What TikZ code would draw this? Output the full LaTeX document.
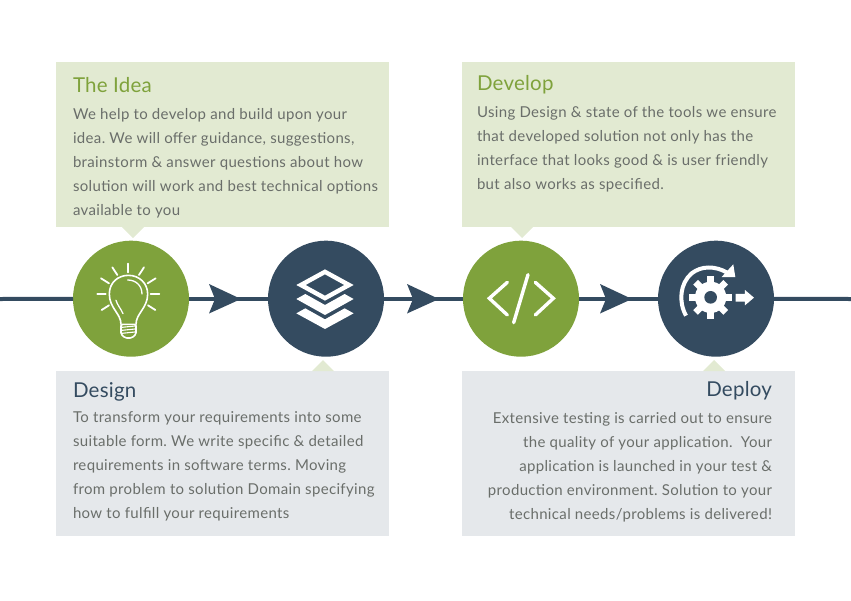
\documentclass[tikz,border=0pt]{standalone}
\usepackage{fontspec}
\setmainfont[LetterSpace=2.3]{Lato}
\newfontfamily\headfont[LetterSpace=1.2]{Lato}
\frenchspacing
\usetikzlibrary{calc}
\definecolor{boxgreen}{HTML}{E2EAD2}
\definecolor{boxgray}{HTML}{E5E8EB}
\definecolor{leaf}{HTML}{7FA23C}
\definecolor{navy}{HTML}{344B60}
\definecolor{bodytxt}{HTML}{6A6E6A}
\tikzset{
  panelgreen/.style={fill=boxgreen,draw=none},
  panelgray/.style={fill=boxgray,draw=none},
  disc/.style={circle,minimum size=116pt,inner sep=0pt,outer sep=0pt,draw=none},
  bodytext/.style={inner sep=0pt,outer sep=0pt,text=bodytxt,font=\fontsize{15}{24}\selectfont,align=left},
  headtext/.style={inner sep=0pt,outer sep=0pt,font=\headfont\fontsize{20.5}{24}\selectfont},
  rail/.style={draw=navy,line width=4pt},
  ink/.style={draw=white,line width=1.6pt,line cap=round,line join=round},
  icon/.style={x=0.3333pt,y=-0.3333pt},
}
\begin{document}
\begin{tikzpicture}[x=1pt,y=-1pt]
\useasboundingbox (0,0) rectangle (851,600);
% panels
\fill[panelgreen] (56,62) rectangle (389,227);
\fill[panelgreen] (122,227) -- (133,238) -- (144,227) -- cycle;
\fill[panelgreen] (462,62) rectangle (795,227);
\fill[panelgreen] (511,227) -- (522,238) -- (533,227) -- cycle;
\fill[panelgray] (56,371) rectangle (389,536);
\fill[panelgreen] (312,371) -- (323,360) -- (334,371) -- cycle;
\fill[panelgray] (462,371) rectangle (795,536);
\fill[panelgreen] (703,371) -- (714,360) -- (725,371) -- cycle;
% rail
\coordinate (railL) at (0,299);
\coordinate (railR) at (851,299);
\node[disc,fill=leaf] (idea) at (131,298.7) {};
\node[disc,fill=navy] (design) at (326,298.7) {};
\node[disc,fill=leaf] (develop) at (521,298.7) {};
\node[disc,fill=navy] (deploy) at (716,298.7) {};
\draw[rail] (railL) -- (idea);
\draw[rail] (idea) -- (design);
\draw[rail] (design) -- (develop);
\draw[rail] (develop) -- (deploy);
\draw[rail] (deploy) -- (railR);
\foreach \t in {209,407,600}{
  \fill[navy] (\t,284) -- (\t+32,299) -- (\t,313.5) -- (\t+6,299) -- cycle;
}
% bulb
\begin{scope}[shift={(60,225)},icon]
\draw[ink] (183,298) .. controls (183,265) and (148,250) .. (148,207)
  .. controls (148,172) and (175,151) .. (205,151)
  .. controls (238,151) and (263,175) .. (263,207)
  .. controls (263,250) and (228,265) .. (228,298);
\draw[ink,rounded corners=1.5pt] (183,298) -- (228,298) -- (228,328) -- (215,339) -- (196,339) -- (183,328) -- cycle;
\draw[ink,line width=1.1pt] (186,307) -- (225,303) (186,316) -- (225,312) (186,325) -- (225,321);
\draw[ink,line width=1.3pt] (203,165) .. controls (228,165) and (246,182) .. (246,207);
\draw[ink,line width=1.3pt] (168,226) .. controls (172,240) and (182,250) .. (189,266);
\foreach \a/\b/\c/\d in {205/116/205/142,157/127/172/150,252/127/237/150,123/160/147/175,287/160/263/175,112/208/137/208,298/208/272/208,125/255/147/241,286/255/264/241}
  \draw[ink,line width=1.8pt] (\a,\b) -- (\c,\d);
\end{scope}
% layers
\begin{scope}[shift={(60,225)},icon]
\fill[white,even odd rule] (795,133) -- (881,180) -- (795,227) -- (709,180) -- cycle
  (795,148) -- (853,180) -- (795,212) -- (737,180) -- cycle;
\fill[white] (709,222) -- (736,207) -- (795,240) -- (854,207) -- (881,222) -- (795,270) -- cycle;
\fill[white] (709,265) -- (736,250) -- (795,283) -- (854,250) -- (881,265) -- (795,312) -- cycle;
\end{scope}
% code
\begin{scope}[shift={(450,225)},icon]
\draw[white,line width=3.4pt,line cap=round] (172,172) -- (118,220) -- (172,270);
\draw[white,line width=3.4pt,line cap=round] (234,149) -- (191,293);
\draw[white,line width=3.4pt,line cap=round] (256,172) -- (310,220) -- (256,270);
\end{scope}
% gear
\begin{scope}[shift={(450,225)},icon]
\fill[white] (782,217) circle[radius=47];
\foreach \r in {0,45,...,315}
  \fill[white,shift={(782,217)},rotate=\r] (-10,-30) rectangle (10,-64);
\fill[navy] (782,217) circle[radius=19];
\draw[white,line width=4pt] (708,272) .. controls (685,230) and (690,175) .. (725,145) .. controls (755,122) and (795,122) .. (832,143);
\fill[white] (850,118) -- (856,156) -- (815,156) -- cycle;
\fill[white] (830,208) rectangle (845,226);
\fill[white] (857,207) -- (885,207) -- (885,195) -- (912,218) -- (885,241) -- (885,230) -- (857,230) -- cycle;
\end{scope}
% text
\node[headtext,text=leaf,anchor=base west] (t1) at (73,92) {The Idea};
\node[bodytext,anchor=north west] (b1) at (73,108) {We help to develop and build upon your\\idea. We will offer guidance, suggestions,\\brainstorm \& answer questions about how\\solution will work and best technical options\\available to you};
\node[headtext,text=leaf,anchor=base west] (t2) at (477,90) {Develop};
\node[bodytext,anchor=north west] (b2) at (477,106) {Using Design \& state of the tools we ensure\\that developed solution not only has the\\interface that looks good \& is user friendly\\but also works as specified.};
\node[headtext,text=navy,anchor=base west] (t3) at (73,397) {Design};
\node[bodytext,anchor=north west] (b3) at (73,411.5) {To transform your requirements into some\\suitable form. We write specific \& detailed\\requirements in software terms. Moving\\from problem to solution Domain specifying\\how to fulfill your requirements};
\node[headtext,text=navy,anchor=base east] (t4) at (772,396) {Deploy};
\node[bodytext,anchor=north east,align=right] (b4) at (772,412.5) {Extensive testing is carried out to ensure\\the quality of your application.\ \ Your\\application is launched in your test \&\\production environment. Solution to your\\technical needs/problems is delivered!};
\end{tikzpicture}
\end{document}
